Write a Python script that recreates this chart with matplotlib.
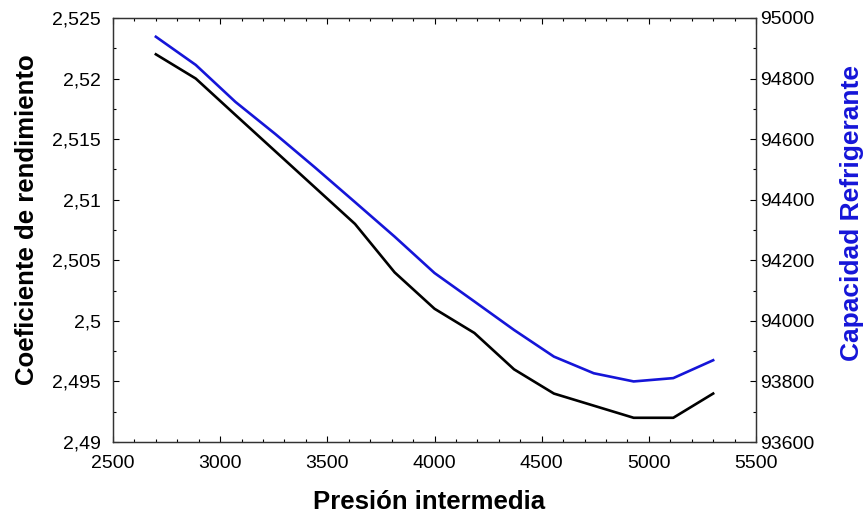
import matplotlib
matplotlib.use('Agg')
import matplotlib.pyplot as plt
from matplotlib.ticker import MultipleLocator, FuncFormatter

plt.rcParams['font.family'] = ['Liberation Sans', 'DejaVu Sans']

# presion intermedia
presion = [2700, 2886, 3071, 3257, 3443, 3629, 3814, 4000,
           4186, 4371, 4557, 4743, 4929, 5114, 5300]
# coeficiente de rendimiento (eje izquierdo)
cop = [2.522, 2.520, 2.517, 2.514, 2.511, 2.508, 2.504, 2.501,
       2.499, 2.496, 2.494, 2.493, 2.492, 2.492, 2.494]
# capacidad refrigerante (eje derecho)
capacidad = [94938, 94845, 94723, 94617, 94506, 94392, 94278, 94158,
             94064, 93970, 93882, 93827, 93800, 93811, 93870]

blue = '#1515d8'

def coma(v, pos):
    return ('%g' % v).replace('.', ',')

fig = plt.figure(figsize=(8.66, 5.21), dpi=100)
ax = fig.add_axes([0.1305, 0.1516, 0.7425, 0.8139])
ax2 = ax.twinx()

ax.plot(presion, cop, color='black', lw=1.9)
ax2.plot(presion, capacidad, color=blue, lw=1.9)

ax.set_xlim(2500, 5500)
ax.set_ylim(2.49, 2.525)
ax2.set_ylim(93600, 95000)

ax.xaxis.set_major_locator(MultipleLocator(500))
ax.xaxis.set_minor_locator(MultipleLocator(100))
ax.yaxis.set_major_locator(MultipleLocator(0.005))
ax.yaxis.set_minor_locator(MultipleLocator(0.0025))
ax.yaxis.set_major_formatter(FuncFormatter(coma))
ax2.yaxis.set_major_locator(MultipleLocator(200))
ax2.yaxis.set_minor_locator(MultipleLocator(100))

ax.tick_params(which='both', direction='in', top=True, labelsize=14, width=0.8)
ax.tick_params(which='major', length=4)
ax.tick_params(which='minor', length=2.5)
ax.tick_params(axis='y', pad=9)
ax.tick_params(axis='x', pad=9)
ax2.tick_params(which='both', direction='in', labelsize=14, width=0.8, pad=3)
ax2.tick_params(which='major', length=4)
ax2.tick_params(which='minor', length=2.5)

for a in (ax, ax2):
    for s in a.spines.values():
        s.set_color('#333333')
        s.set_linewidth(0.9)

ax.set_xlabel('Presión intermedia', fontsize=18.5, fontweight='bold', labelpad=13)
ax.set_ylabel('Coeficiente de rendimiento', fontsize=18.5, fontweight='bold', labelpad=9)
ax2.set_ylabel('Capacidad Refrigerante', fontsize=19, fontweight='bold', color=blue, labelpad=18)
ax.xaxis.label.set_x(0.491)
ax.yaxis.label.set_y(0.524)
ax2.yaxis.label.set_y(0.54)

fig.savefig('out.png', dpi=100)
